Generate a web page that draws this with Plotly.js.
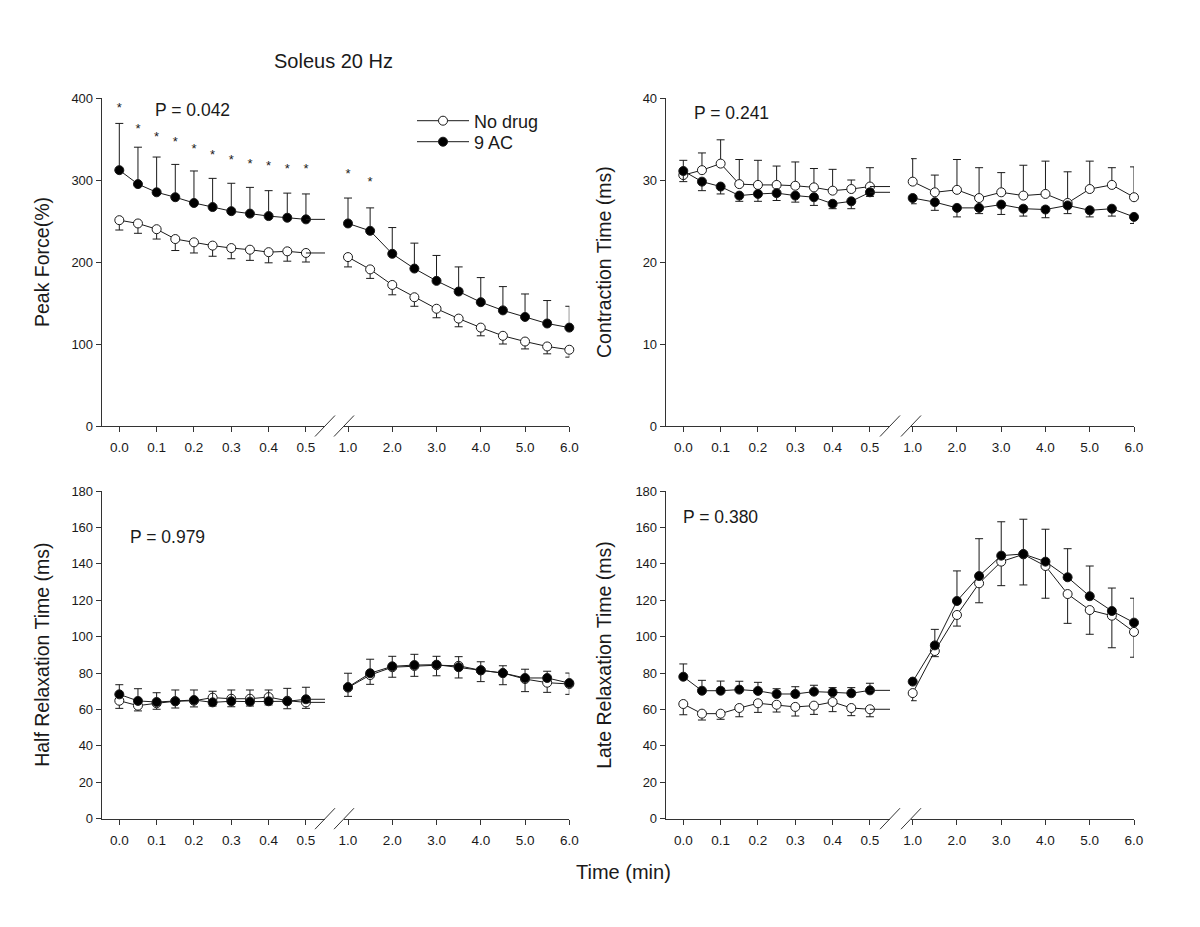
<!DOCTYPE html>
<html>
<head>
<meta charset="utf-8">
<script src="https://cdn.plot.ly/plotly-3.0.1.min.js"></script>
<style>html,body{margin:0;padding:0;background:#fff}#chart{width:1200px;height:927px}</style>
</head>
<body>
<div id="chart"></div>
<script>
// time points, either side of the axis break
var tLeft = [0, 0.05, 0.1, 0.15, 0.2, 0.25, 0.3, 0.35, 0.4, 0.45, 0.5];
var tRight = [1.0, 1.5, 2.0, 2.5, 3.0, 3.5, 4.0, 4.5, 5.0, 5.5, 6.0];

// Peak force (%)
var pfNoDrugL = [251, 247, 240, 228, 224, 220, 217, 215, 212, 213, 211];
var pfNoDrugLErr = [12, 12, 12, 14, 13, 13, 13, 13, 13, 12, 11];
var pfAcL = [312, 295, 285, 279, 272, 267, 262, 259, 256, 254, 252];
var pfAcLErr = [57, 45, 43, 40, 39, 35, 34, 32, 31, 30, 31];
var pfNoDrugR = [206, 191, 172, 157, 143, 131, 120, 110, 103, 97, 93];
var pfNoDrugRErr = [12, 11, 12, 11, 11, 10, 10, 10, 9, 9, 9];
var pfAcR = [247, 238, 210, 192, 177, 164, 151, 141, 133, 125, 120];
var pfAcRErr = [31, 28, 32, 31, 31, 30, 30, 29, 28, 28, 26];
var starL = [387, 361, 352, 345, 337, 329, 324, 319, 316, 313, 313];
var starR = [306, 297];

// Contraction time (ms)
var ctNoDrugL = [30.6, 31.2, 32.0, 29.5, 29.4, 29.4, 29.3, 29.1, 28.7, 28.9, 29.2];
var ctNoDrugLErr = [1.8, 2.1, 2.9, 3.0, 3.0, 2.3, 2.9, 2.3, 2.6, 1.1, 2.3];
var ctAcL = [31.1, 29.8, 29.2, 28.1, 28.3, 28.4, 28.1, 27.9, 27.1, 27.4, 28.5];
var ctAcLErr = [1.3, 1.1, 0.9, 0.7, 0.9, 0.9, 0.8, 1.0, 0.6, 0.9, 0.5];
var ctNoDrugR = [29.8, 28.5, 28.8, 27.8, 28.5, 28.1, 28.3, 27.2, 28.9, 29.4, 27.9];
var ctNoDrugRErr = [2.8, 2.1, 3.7, 3.7, 2.4, 3.7, 4.0, 3.8, 3.4, 2.1, 3.7];
var ctAcR = [27.8, 27.3, 26.6, 26.6, 27.0, 26.5, 26.4, 26.9, 26.3, 26.5, 25.5];
var ctAcRErr = [0.7, 1.0, 1.1, 0.7, 1.2, 0.9, 1.0, 1.0, 0.8, 0.9, 0.8];

// Half relaxation time (ms)
var hrNoDrugL = [64.8, 62.1, 63.4, 64.5, 64.8, 66.5, 65.9, 65.9, 66.8, 64.8, 63.9];
var hrNoDrugLErr = [4.2, 2.9, 3.3, 3.7, 3.4, 4.6, 4.4, 4.0, 4.3, 4.4, 3.3];
var hrAcL = [68.3, 64.7, 64.1, 64.5, 65.2, 63.9, 64.5, 64.3, 64.5, 64.5, 65.6];
var hrAcLErr = [5.3, 6.7, 5.1, 6.2, 5.5, 6.1, 6.2, 6.4, 6.2, 7.1, 6.6];
var hrNoDrugR = [72.0, 78.9, 83.2, 83.9, 84.3, 84.0, 81.5, 80.0, 76.7, 74.7, 74.0];
var hrNoDrugRErr = [4.8, 5.1, 5.5, 5.7, 5.8, 6.7, 6.2, 6.4, 6.9, 5.3, 5.7];
var hrAcR = [72.3, 79.9, 83.7, 84.4, 84.6, 83.2, 81.5, 80.0, 77.3, 77.3, 74.5];
var hrAcRErr = [7.6, 7.7, 5.5, 5.9, 4.6, 5.8, 4.7, 4.0, 4.8, 3.7, 5.5];

// Late relaxation time (ms)
var lrNoDrugL = [63.0, 57.7, 57.7, 60.8, 63.4, 62.6, 61.4, 62.1, 64.1, 60.8, 60.1];
var lrNoDrugLErr = [5.9, 3.5, 3.1, 4.8, 5.0, 4.0, 5.0, 4.8, 5.3, 4.2, 4.1];
var lrAcL = [78.0, 70.3, 70.3, 70.9, 70.2, 68.5, 68.5, 69.8, 69.4, 68.9, 70.5];
var lrAcLErr = [7.0, 5.7, 5.3, 4.6, 4.7, 2.9, 4.0, 3.5, 2.6, 3.1, 3.9];
var lrNoDrugR = [69.0, 92.1, 111.9, 129.3, 141.2, 145.2, 138.8, 123.4, 114.6, 111.5, 102.6];
var lrNoDrugRErr = [4.2, 3.1, 6.1, 10.7, 13.2, 16.8, 17.7, 16.1, 13.3, 17.6, 13.9];
var lrAcR = [75.3, 95.2, 119.6, 133.3, 144.5, 145.4, 141.2, 132.6, 122.2, 114.1, 107.7];
var lrAcRErr = [0, 8.8, 16.5, 20.5, 18.6, 19.1, 17.8, 15.7, 16.6, 12.6, 13.4];

var W = 1200, H = 927;
var px = function (v) { return v / W; };
var py = function (v) { return 1 - v / H; };
var FONT = 'Liberation Sans, Arial, sans-serif';
var INK = '#1a1a1a';

// x pixel layout of each column: y axis, break, end; pixel of first tick on each side
var cols = [
  {axis: 101.7, brkL: 325, brkR: 344, end: 569.3, t0: 119.3, t1: 348},
  {axis: 665.7, brkL: 890, brkR: 911, end: 1134, t0: 683.3, t1: 912.7}
];
var rows = [
  {top: 98, bot: 426},
  {top: 491, bot: 818.7}
];
var pxPerMinL = 373.3, pxPerMinR = 44.26;

var panels = [
  {col: 0, row: 0, yr: [0, 400], dt: 100, title: 'Peak Force(%)', p: 'P = 0.042', px: 153, py: 110,
   nd: [pfNoDrugL, pfNoDrugLErr, pfNoDrugR, pfNoDrugRErr], ac: [pfAcL, pfAcLErr, pfAcR, pfAcRErr], ndUp: false},
  {col: 1, row: 0, yr: [0, 40], dt: 10, title: 'Contraction Time (ms)', p: 'P = 0.241', px: 692, py: 113,
   nd: [ctNoDrugL, ctNoDrugLErr, ctNoDrugR, ctNoDrugRErr], ac: [ctAcL, ctAcLErr, ctAcR, ctAcRErr], ndUp: true},
  {col: 0, row: 1, yr: [0, 180], dt: 20, title: 'Half Relaxation Time (ms)', p: 'P = 0.979', px: 128, py: 537,
   nd: [hrNoDrugL, hrNoDrugLErr, hrNoDrugR, hrNoDrugRErr], ac: [hrAcL, hrAcLErr, hrAcR, hrAcRErr], ndUp: false},
  {col: 1, row: 1, yr: [0, 180], dt: 20, title: 'Late Relaxation Time (ms)', p: 'P = 0.380', px: 681, py: 517,
   nd: [lrNoDrugL, lrNoDrugLErr, lrNoDrugR, lrNoDrugRErr], ac: [lrAcL, lrAcLErr, lrAcR, lrAcRErr], ndUp: false}
];

var zeros = tLeft.map(function () { return 0; });

function series(x, y, err, up, xa, ya, filled, name, legend) {
  return {
    x: x, y: y, xaxis: xa, yaxis: ya,
    type: 'scatter', mode: 'lines+markers', name: name,
    showlegend: !!legend, legend: legend || 'legend',
    cliponaxis: false, hoverinfo: 'skip',
    line: {color: INK, width: 1},
    marker: {size: 9, symbol: 'circle', color: filled ? '#000' : '#fff', line: {color: INK, width: 1}},
    error_y: {type: 'data', symmetric: false, array: up ? err : zeros, arrayminus: up ? zeros : err,
      color: INK, thickness: 1, width: 4}
  };
}

function stub(y, end, xa, ya) {
  return {
    x: [tLeft[tLeft.length - 1], end], y: [y[y.length - 1], y[y.length - 1]],
    xaxis: xa, yaxis: ya, type: 'scatter', mode: 'lines', showlegend: false,
    hoverinfo: 'skip', line: {color: INK, width: 1}
  };
}

var data = [], layout = {
  width: W, height: H, margin: {l: 0, r: 0, t: 0, b: 0},
  paper_bgcolor: '#fff', plot_bgcolor: 'rgba(0,0,0,0)',
  font: {family: FONT, color: INK}, hovermode: false,
  annotations: [], shapes: []
};

panels.forEach(function (p, i) {
  var c = cols[p.col], r = rows[p.row];
  var nL = 2 * i + 1, nR = 2 * i + 2;
  var xa = 'x' + nL, xb = 'x' + nR, ya = 'y' + (i + 1);
  var lMin = -(c.t0 - c.axis) / pxPerMinL, lMax = lMin + (c.brkL - c.axis) / pxPerMinL;
  var rMin = 1 - (c.t1 - c.brkR) / pxPerMinR;
  var xBase = {
    showline: true, linecolor: '#333', linewidth: 1, ticks: 'outside', ticklen: 5, tickcolor: '#333',
    showgrid: false, zeroline: false, tickformat: '.1f', fixedrange: true,
    tickfont: {family: FONT, size: 13.5, color: INK}, ticklabelstandoff: 4, anchor: ya
  };
  layout['xaxis' + nL] = Object.assign({}, xBase, {
    domain: [px(c.axis), px(c.brkL)], range: [lMin, lMax], tickvals: [0, 0.1, 0.2, 0.3, 0.4, 0.5]
  });
  layout['xaxis' + nR] = Object.assign({}, xBase, {
    domain: [px(c.brkR), px(c.end)], range: [rMin, 6], tickvals: [1, 2, 3, 4, 5, 6]
  });
  layout['yaxis' + (i + 1)] = {
    domain: [py(r.bot), py(r.top)], range: p.yr, dtick: p.dt, anchor: xa,
    showline: true, linecolor: '#333', linewidth: 1, ticks: 'outside', ticklen: 5, tickcolor: '#333',
    showgrid: false, zeroline: false, fixedrange: true,
    tickfont: {family: FONT, size: 13, color: INK}
  };

  var first = i === 0;
  data.push(series(tLeft, p.nd[0], p.nd[1], p.ndUp, xa, ya, false, 'No drug', first ? 'legend' : null));
  data.push(series(tRight, p.nd[2], p.nd[3], p.ndUp, xb, ya, false, 'No drug'));
  data.push(stub(p.nd[0], lMax, xa, ya));
  data.push(series(tLeft, p.ac[0], p.ac[1], !p.ndUp, xa, ya, true, '9 AC', first ? 'legend2' : null));
  data.push(series(tRight, p.ac[2], p.ac[3], !p.ndUp, xb, ya, true, '9 AC'));
  data.push(stub(p.ac[0], lMax, xa, ya));

  // axis break marks
  [c.brkL, c.brkR].forEach(function (bx) {
    layout.shapes.push({type: 'line', xref: 'paper', yref: 'paper',
      x0: px(bx - 10), y0: py(r.bot + 10.5), x1: px(bx + 10), y1: py(r.bot - 10.5),
      line: {color: '#333', width: 1}});
  });

  layout.annotations.push({xref: 'paper', yref: 'paper', x: px(p.px), y: py(p.py), text: p.p,
    xanchor: 'left', yanchor: 'middle', showarrow: false, font: {size: 17.5, color: INK}});
  layout.annotations.push({xref: 'paper', yref: 'paper', x: px(p.col === 0 ? 42 : 604), y: py((r.top + r.bot) / 2),
    text: p.title, textangle: -90, xanchor: 'center', yanchor: 'middle', showarrow: false,
    font: {size: 19.5, color: INK}});
});

// significance marks on the peak force panel
data.push({x: tLeft, y: starL, xaxis: 'x1', yaxis: 'y1', type: 'scatter', mode: 'text',
  text: starL.map(function () { return '*'; }), textposition: 'middle center', cliponaxis: false,
  textfont: {size: 13, color: INK}, showlegend: false, hoverinfo: 'skip'});
data.push({x: tRight.slice(0, starR.length), y: starR, xaxis: 'x2', yaxis: 'y1', type: 'scatter', mode: 'text',
  text: starR.map(function () { return '*'; }), textposition: 'middle center', cliponaxis: false,
  textfont: {size: 13, color: INK}, showlegend: false, hoverinfo: 'skip'});

layout.annotations.push({xref: 'paper', yref: 'paper', x: px(333), y: py(61), text: 'Soleus 20 Hz',
  xanchor: 'center', yanchor: 'middle', showarrow: false, font: {size: 20, color: INK}});
layout.annotations.push({xref: 'paper', yref: 'paper', x: px(623), y: py(872), text: 'Time (min)',
  xanchor: 'center', yanchor: 'middle', showarrow: false, font: {size: 20, color: INK}});

var legendBase = {xanchor: 'left', yanchor: 'middle', bgcolor: 'rgba(0,0,0,0)', borderwidth: 0,
  font: {family: FONT, size: 18, color: INK}, itemwidth: 52, x: px(412)};
layout.legend = Object.assign({}, legendBase, {y: py(121)});
layout.legend2 = Object.assign({}, legendBase, {y: py(142)});

Plotly.newPlot('chart', data, layout, {staticPlot: true});
</script>
</body>
</html>
